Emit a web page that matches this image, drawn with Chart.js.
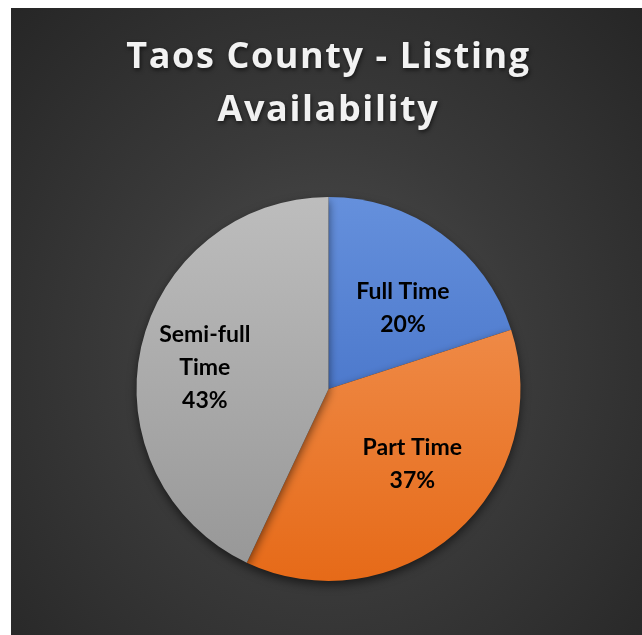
<!DOCTYPE html>
<html>
<head>
<meta charset="utf-8">
<script src="https://cdn.jsdelivr.net/npm/chart.js@4"></script>
<style>
  html, body { margin: 0; padding: 0; background: #fff; }
  #panel {
    position: absolute; left: 11px; top: 8px; width: 631px; height: 627px;
    background: radial-gradient(ellipse at 50% 55%, #4f4f4f 0%, #3a3a3a 45%, #262626 100%);
  }
  #chart { display: block; }
</style>
</head>
<body>
<div id="panel"><canvas id="chart" width="631" height="627"></canvas></div>
<script>
const titleLines = ['Taos County - Listing', 'Availability'];
const categories = ['Full Time', 'Part Time', 'Semi-full Time'];
const shares = [20, 37, 43];
// label lines shown inside each slice
const sliceLabels = [['Full Time'], ['Part Time'], ['Semi-full', 'Time']];
const colorTop = ['#6590dc', '#f39a5e', '#bdbdbd'];
const colorBottom = ['#3563bd', '#e66a18', '#969696'];

function sliceFill(ctx) {
  const area = ctx.chart.chartArea;
  if (!area) return colorTop[ctx.dataIndex];
  const g = ctx.chart.ctx.createLinearGradient(0, area.top, 0, area.bottom);
  g.addColorStop(0, colorTop[ctx.dataIndex]);
  g.addColorStop(1, colorBottom[ctx.dataIndex]);
  return g;
}

const effects = {
  id: 'effects',
  beforeDraw(chart) {
    const c = chart.ctx;
    c.letterSpacing = '1.6px';
    c.shadowColor = 'rgba(0,0,0,0.6)';
    c.shadowBlur = 4;
    c.shadowOffsetX = 1;
    c.shadowOffsetY = 2;
  },
  beforeDatasetsDraw(chart) {
    const c = chart.ctx;
    c.letterSpacing = '0px';
    c.shadowColor = 'rgba(0,0,0,0.55)';
    c.shadowBlur = 10;
    c.shadowOffsetX = 0;
    c.shadowOffsetY = 4;
  },
  afterDatasetsDraw(chart) {
    const c = chart.ctx;
    c.save();
    c.shadowColor = 'transparent';
    c.letterSpacing = '0px';
    c.fillStyle = '#000';
    c.font = 'bold 23px Lato';
    c.textAlign = 'center';
    c.textBaseline = 'middle';
    const meta = chart.getDatasetMeta(0);
    meta.data.forEach((arc, i) => {
      const p = arc.getProps(['x', 'y', 'startAngle', 'endAngle', 'outerRadius'], true);
      const mid = (p.startAngle + p.endAngle) / 2;
      // labels sit on a flattened ring around the centre
      const cx = p.x + Math.cos(mid) * p.outerRadius * 0.66;
      const cy = p.y + Math.sin(mid) * p.outerRadius * 0.52;
      const lines = sliceLabels[i].concat([shares[i] + '%']);
      const lh = 33;
      lines.forEach((t, k) => {
        c.fillText(t, cx, cy + (k - (lines.length - 1) / 2) * lh);
      });
    });
    c.restore();
  }
};

new Chart(document.getElementById('chart'), {
  type: 'pie',
  data: {
    labels: categories,
    datasets: [{
      data: shares,
      backgroundColor: sliceFill,
      borderWidth: 0
    }]
  },
  options: {
    responsive: false,
    animation: false,
    layout: { padding: { left: 4, right: 0, top: 0, bottom: 54 } },
    plugins: {
      legend: { display: false },
      tooltip: { enabled: false },
      title: {
        display: true,
        text: titleLines,
        color: '#f2f2f2',
        font: { family: 'Open Sans', size: 36, weight: 'bold', lineHeight: 1.45 },
        padding: { top: 24, bottom: 60.6 }
      }
    }
  },
  plugins: [effects]
});
</script>
</body>
</html>
